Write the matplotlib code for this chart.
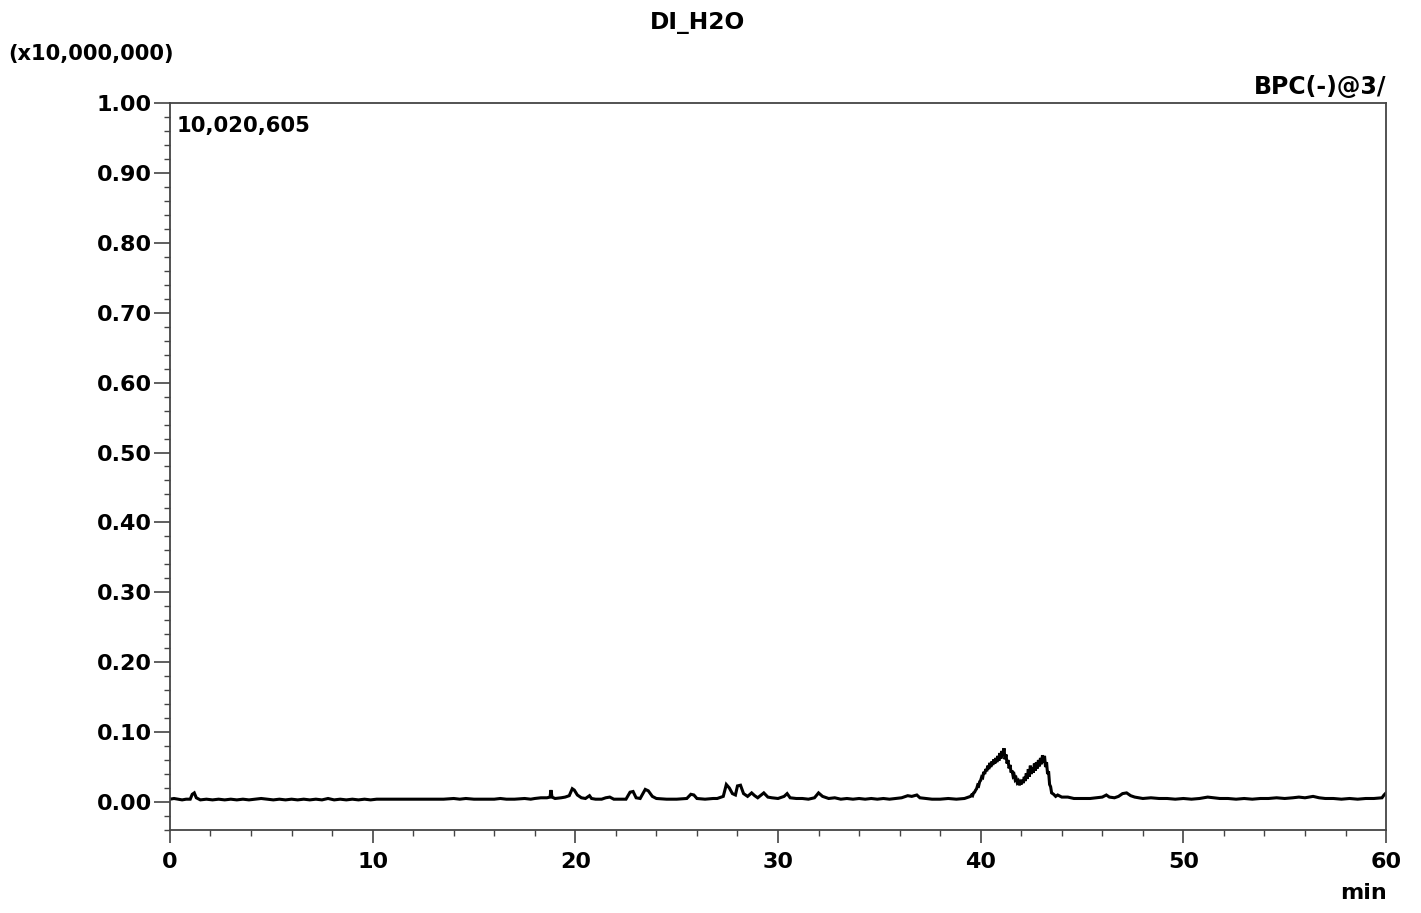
import matplotlib
matplotlib.use("Agg")
import matplotlib.pyplot as plt
from matplotlib.ticker import MultipleLocator, FormatStrFormatter

plt.rcParams["font.family"] = ["DejaVu Sans"]
plt.rcParams["font.weight"] = "bold"

# Base peak chromatogram, negative mode (intensity in units of 10,000,000)
# 0 - 18 min: near-flat baseline
early_t = [
    0.0, 0.2, 0.4, 0.6, 0.8, 1.0, 1.1, 1.2, 1.3, 1.5, 1.8, 2.1, 2.4, 2.7, 3.0,
    3.3, 3.6, 3.9, 4.2, 4.5, 4.8, 5.1, 5.4, 5.7, 6.0, 6.3, 6.6, 6.9, 7.2, 7.5,
    7.8, 8.1, 8.4, 8.7, 9.0, 9.3, 9.6, 9.9, 10.2, 10.5, 12.0, 13.5, 14.0, 14.3,
    14.6, 15.0, 16.0, 16.3, 16.6, 17.0, 17.5, 17.8,
]
early_v = [
    0.004, 0.005, 0.004, 0.003, 0.004, 0.004, 0.011, 0.013, 0.006, 0.003,
    0.004, 0.003, 0.004, 0.003, 0.004, 0.003, 0.004, 0.003, 0.004, 0.005,
    0.004, 0.003, 0.004, 0.003, 0.004, 0.003, 0.004, 0.003, 0.004, 0.003,
    0.005, 0.003, 0.004, 0.003, 0.004, 0.003, 0.004, 0.003, 0.004, 0.004,
    0.004, 0.004, 0.005, 0.004, 0.005, 0.004, 0.004, 0.005, 0.004, 0.004,
    0.005, 0.004,
]

# 18 - 39.5 min: small eluting peaks
mid_t = [
    18.0, 18.3, 18.6, 18.75, 18.8, 18.85, 19.0, 19.3, 19.5, 19.7, 19.85, 19.95,
    20.1, 20.3, 20.5, 20.7, 20.8, 21.0, 21.3, 21.5, 21.7, 21.9, 22.2, 22.5,
    22.7, 22.85, 23.0, 23.2, 23.45, 23.6, 23.8, 24.0, 24.5, 25.0, 25.5, 25.7,
    25.85, 26.0, 26.4, 26.8, 27.0, 27.3, 27.45, 27.6, 27.75, 27.9, 28.0, 28.15,
    28.3, 28.5, 28.7, 28.85, 29.0, 29.3, 29.5, 29.7, 30.0, 30.3, 30.45, 30.6,
    30.9, 31.2, 31.5, 31.8, 32.0, 32.2, 32.5, 32.8, 33.1, 33.4, 33.7, 34.0,
    34.3, 34.6, 34.9, 35.2, 35.5, 35.8, 36.1, 36.4, 36.6, 36.85, 37.0, 37.3,
    37.6, 38.0, 38.4, 38.8, 39.2,
]
mid_v = [
    0.005, 0.006, 0.006, 0.007, 0.017, 0.007, 0.005, 0.006, 0.007, 0.009,
    0.019, 0.017, 0.010, 0.006, 0.005, 0.009, 0.005, 0.004, 0.004, 0.006,
    0.007, 0.004, 0.004, 0.004, 0.014, 0.015, 0.006, 0.005, 0.018, 0.016,
    0.008, 0.005, 0.004, 0.004, 0.005, 0.011, 0.010, 0.005, 0.004, 0.005,
    0.005, 0.008, 0.025, 0.020, 0.012, 0.010, 0.023, 0.024, 0.012, 0.008,
    0.013, 0.009, 0.006, 0.013, 0.007, 0.006, 0.005, 0.008, 0.012, 0.006,
    0.005, 0.005, 0.004, 0.006, 0.013, 0.008, 0.005, 0.006, 0.004, 0.005,
    0.004, 0.005, 0.004, 0.005, 0.004, 0.005, 0.004, 0.005, 0.006, 0.009,
    0.008, 0.010, 0.006, 0.005, 0.004, 0.004, 0.005, 0.004, 0.005,
]

# 39.5 - 43.8 min: broad double hump
hump_t = [
    39.50, 39.55, 39.60, 39.65, 39.70, 39.75, 39.80, 39.85, 39.90, 39.95,
    40.00, 40.05, 40.10, 40.15, 40.20, 40.25, 40.30, 40.35, 40.40, 40.45,
    40.50, 40.55, 40.60, 40.65, 40.70, 40.75, 40.80, 40.85, 40.90, 40.95,
    41.00, 41.05, 41.10, 41.15, 41.20, 41.25, 41.30, 41.35, 41.40, 41.45,
    41.50, 41.55, 41.60, 41.65, 41.70, 41.75, 41.80, 41.85, 41.90, 41.95,
    42.00, 42.05, 42.10, 42.15, 42.20, 42.25, 42.30, 42.35, 42.40, 42.45,
    42.50, 42.55, 42.60, 42.65, 42.70, 42.75, 42.80, 42.85, 42.90, 42.95,
    43.00, 43.05, 43.10, 43.15, 43.20, 43.25, 43.30, 43.35, 43.40, 43.45,
    43.50, 43.60, 43.70, 43.80,
]
hump_v = [
    0.008, 0.010, 0.009, 0.013, 0.014, 0.017, 0.019, 0.024, 0.023, 0.029,
    0.031, 0.036, 0.035, 0.043, 0.040, 0.047, 0.044, 0.052, 0.047, 0.056,
    0.050, 0.058, 0.053, 0.061, 0.055, 0.063, 0.057, 0.066, 0.059, 0.070,
    0.062, 0.073, 0.066, 0.077, 0.061, 0.068, 0.055, 0.060, 0.048, 0.053,
    0.042, 0.045, 0.037, 0.039, 0.032, 0.034, 0.028, 0.030, 0.024, 0.028,
    0.025, 0.032, 0.027, 0.036, 0.030, 0.041, 0.033, 0.047, 0.036, 0.052,
    0.040, 0.049, 0.042, 0.055, 0.045, 0.057, 0.048, 0.060, 0.051, 0.063,
    0.054, 0.067, 0.056, 0.066, 0.050, 0.057, 0.040, 0.044, 0.025, 0.022,
    0.013, 0.011, 0.008, 0.010,
]

# 44 - 60 min: tail of the run
late_t = [
    44.0, 44.3, 44.6, 45.0, 45.4, 45.7, 46.0, 46.2, 46.35, 46.6, 46.8, 47.0,
    47.2, 47.4, 47.6, 48.0, 48.4, 48.8, 49.2, 49.6, 50.0, 50.4, 50.8, 51.2,
    51.5, 51.8, 52.2, 52.6, 53.0, 53.4, 53.8, 54.2, 54.6, 55.0, 55.4, 55.7,
    56.0, 56.4, 56.7, 57.0, 57.4, 57.8, 58.2, 58.6, 59.0, 59.4, 59.8, 59.9,
    60.0,
]
late_v = [
    0.007, 0.007, 0.005, 0.005, 0.005, 0.006, 0.007, 0.010, 0.007, 0.006,
    0.008, 0.012, 0.013, 0.009, 0.007, 0.005, 0.006, 0.005, 0.005, 0.004,
    0.005, 0.004, 0.005, 0.007, 0.006, 0.005, 0.005, 0.004, 0.005, 0.004,
    0.005, 0.005, 0.006, 0.005, 0.006, 0.007, 0.006, 0.008, 0.006, 0.005,
    0.005, 0.004, 0.005, 0.004, 0.005, 0.005, 0.006, 0.010, 0.013,
]

time_min = early_t + mid_t + hump_t + late_t
intensity = early_v + mid_v + hump_v + late_v

title_text = "DI_H2O"
scale_text = "(x10,000,000)"
trace_name = "BPC(-)@3/"
max_intensity_text = "10,020,605"
x_unit = "min"

fig = plt.figure(figsize=(14.21, 9.13), dpi=100)
ax = fig.add_axes([0.1196, 0.0909, 0.8558, 0.7963])

ax.plot(time_min, intensity, color="black", lw=2.2, solid_joinstyle="miter")

ax.set_xlim(0, 60)
ax.set_ylim(-0.0401, 1.0001)

ax.xaxis.set_major_locator(MultipleLocator(10))
ax.xaxis.set_minor_locator(MultipleLocator(2))
ax.yaxis.set_major_locator(MultipleLocator(0.1))
ax.yaxis.set_minor_locator(MultipleLocator(0.02))
ax.yaxis.set_major_formatter(FormatStrFormatter("%.2f"))
ax.xaxis.set_major_formatter(FormatStrFormatter("%d"))

ax.tick_params(axis="y", which="major", direction="out", length=11.5, width=1.2,
               pad=1.5, labelsize=16, color="#444444")
ax.tick_params(axis="y", which="minor", direction="out", length=4.5, width=1.0,
               color="#444444")
ax.tick_params(axis="x", which="major", direction="out", length=9, width=1.2,
               pad=7, labelsize=16, color="#444444")
ax.tick_params(axis="x", which="minor", direction="out", length=4.5, width=1.0,
               color="#444444")
for lab in ax.get_xticklabels() + ax.get_yticklabels():
    lab.set_fontweight("bold")

for sp in ax.spines.values():
    sp.set_color("#444444")
    sp.set_linewidth(1.3)

fig.text(697 / 1421, 1 - 22 / 913, title_text, ha="center", va="center",
         fontsize=16.8, fontweight="bold")
fig.text(8 / 1421, 1 - 54 / 913, scale_text, ha="left", va="center",
         fontsize=15.1, fontweight="bold")
fig.text(1386 / 1421, 1 - 87 / 913, trace_name, ha="right", va="center",
         fontsize=17, fontweight="bold")
fig.text(1363 / 1421, 1 - 893 / 913, x_unit, ha="center", va="center",
         fontsize=16, fontweight="bold")
fig.text(177 / 1421, 1 - 126 / 913, max_intensity_text, ha="left",
         va="center", fontsize=15.2, fontweight="bold")

fig.savefig("out.png", dpi=100)
